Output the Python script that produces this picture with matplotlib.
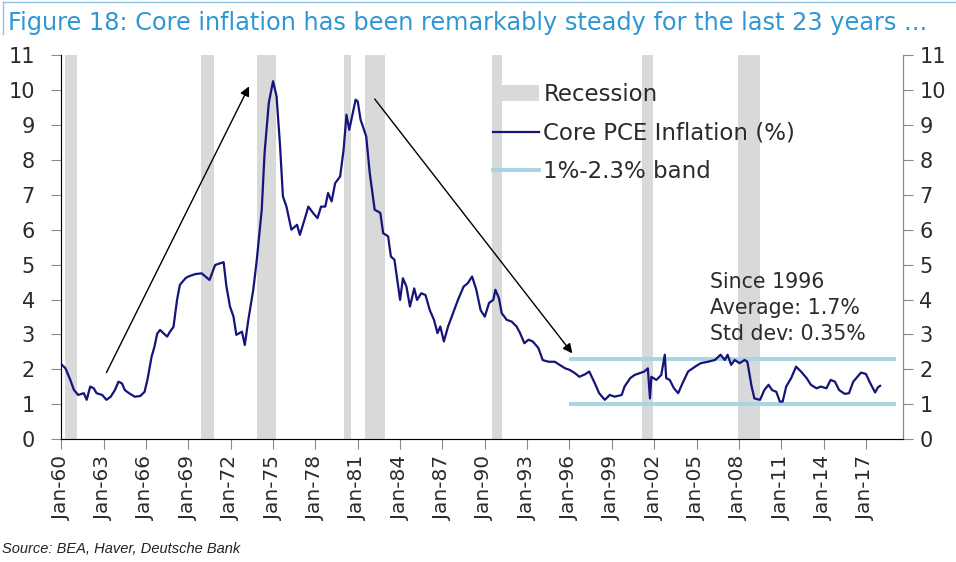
import matplotlib
matplotlib.use("Agg")
import matplotlib.pyplot as plt
from matplotlib.lines import Line2D
from matplotlib.patches import Patch

# core PCE inflation, % y/y (decimal years)
years = [1960.05, 1960.3, 1960.64, 1960.9, 1961.2, 1961.6, 1961.8, 1962.05, 1962.3, 1962.5,
         1962.9, 1963.2, 1963.5, 1963.8, 1964.05, 1964.3, 1964.5, 1964.8, 1965.2, 1965.6,
         1965.9, 1966.1, 1966.4, 1966.6, 1966.8, 1967.0, 1967.25, 1967.5, 1967.7, 1967.95,
         1968.2, 1968.4, 1968.8, 1969.0, 1969.5, 1969.95, 1970.5, 1970.9, 1971.5, 1971.7,
         1971.95, 1972.2, 1972.4, 1972.8, 1973.0, 1973.25, 1973.6, 1973.85, 1974.2, 1974.4,
         1974.7, 1975.0, 1975.25, 1975.5, 1975.7, 1975.95, 1976.3, 1976.7, 1976.9, 1977.3,
         1977.5, 1977.85, 1978.15, 1978.4, 1978.7, 1978.9, 1979.15, 1979.4, 1979.75, 1980.0,
         1980.2, 1980.4, 1980.6, 1980.85, 1981.0, 1981.2, 1981.6, 1981.85, 1982.2, 1982.6,
         1982.8, 1983.15, 1983.35, 1983.6, 1984.0, 1984.2, 1984.45, 1984.7, 1985.0, 1985.2,
         1985.5, 1985.8, 1986.1, 1986.4, 1986.65, 1986.85, 1987.1, 1987.4, 1987.75, 1988.1,
         1988.5, 1988.8, 1989.1, 1989.4, 1989.7, 1990.0, 1990.3, 1990.6, 1990.75, 1991.0,
         1991.2, 1991.55, 1991.9, 1992.25, 1992.5, 1992.8, 1993.1, 1993.4, 1993.8, 1994.1,
         1994.5, 1994.95, 1995.3, 1995.7, 1996.0, 1996.4, 1996.7, 1997.1, 1997.4, 1997.8,
         1998.1, 1998.5, 1998.85, 1999.2, 1999.7, 1999.9, 2000.3, 2000.6, 2000.95, 2001.3,
         2001.55, 2001.7, 2001.8, 2002.15, 2002.5, 2002.75, 2002.85, 2003.1, 2003.4, 2003.7,
         2004.0, 2004.4, 2004.9, 2005.3, 2005.8, 2006.3, 2006.7, 2007.0, 2007.2, 2007.45,
         2007.7, 2008.05, 2008.4, 2008.6, 2008.9, 2009.1, 2009.5, 2009.8, 2010.1, 2010.35,
         2010.65, 2010.9, 2011.1, 2011.35, 2011.7, 2012.05, 2012.4, 2012.8, 2013.1, 2013.5,
         2013.8, 2014.2, 2014.5, 2014.8, 2015.1, 2015.5, 2015.8, 2016.1, 2016.4, 2016.65,
         2017.0, 2017.25, 2017.5, 2017.65, 2017.85, 2018.0]
core_pce = [2.13, 2.03, 1.70, 1.41, 1.27, 1.32, 1.13, 1.51, 1.46, 1.32,
            1.27, 1.13, 1.22, 1.41, 1.65, 1.60, 1.41, 1.32, 1.22, 1.24,
            1.36, 1.70, 2.37, 2.65, 3.03, 3.13, 3.03, 2.94, 3.08, 3.22,
            3.99, 4.42, 4.61, 4.66, 4.73, 4.75, 4.56, 4.99, 5.07, 4.37,
            3.80, 3.51, 2.99, 3.08, 2.70, 3.42, 4.28, 5.14, 6.57, 8.19,
            9.63, 10.25, 9.82, 8.38, 6.95, 6.66, 6.00, 6.14, 5.85, 6.38,
            6.66, 6.47, 6.33, 6.66, 6.66, 7.05, 6.81, 7.33, 7.52, 8.29,
            9.29, 8.86, 9.24, 9.72, 9.67, 9.15, 8.67, 7.62, 6.57, 6.48,
            5.90, 5.81, 5.23, 5.14, 3.99, 4.61, 4.37, 3.80, 4.32, 3.99,
            4.18, 4.13, 3.70, 3.42, 3.04, 3.23, 2.80, 3.23, 3.61, 3.99,
            4.37, 4.47, 4.66, 4.28, 3.70, 3.51, 3.90, 3.99, 4.28, 4.04,
            3.61, 3.42, 3.37, 3.23, 3.04, 2.75, 2.85, 2.80, 2.61, 2.27,
            2.22, 2.22, 2.13, 2.03, 1.99, 1.89, 1.79, 1.86, 1.94, 1.60,
            1.32, 1.13, 1.27, 1.22, 1.27, 1.51, 1.75, 1.84, 1.89, 1.94,
            2.03, 1.17, 1.79, 1.70, 1.84, 2.42, 1.75, 1.70, 1.46, 1.32,
            1.60, 1.94, 2.08, 2.18, 2.22, 2.27, 2.42, 2.27, 2.42, 2.13,
            2.27, 2.18, 2.27, 2.22, 1.51, 1.17, 1.13, 1.41, 1.56, 1.41,
            1.36, 1.08, 1.08, 1.51, 1.75, 2.08, 1.94, 1.75, 1.56, 1.46,
            1.51, 1.46, 1.70, 1.65, 1.41, 1.30, 1.32, 1.65, 1.79, 1.91,
            1.87, 1.65, 1.46, 1.34, 1.49, 1.53]

rec_start = [1960.25, 1969.92, 1973.83, 1980.0, 1981.5, 1990.5, 2001.17, 2007.92]
rec_end = [1961.1, 1970.83, 1975.2, 1980.5, 1982.9, 1991.25, 2001.9, 2009.5]

band_from, band_to = 1996.0, 2019.1
band_low, band_high = 1.0, 2.3

tick_years = list(range(1960, 2018, 3))
tick_labels = ["Jan-%02d" % (y % 100) for y in tick_years]

navy = "#14147a"
band_col = "#a9d4e2"
rec_col = "#d9d9d9"
grey = "#8a8a8a"
txt = "#2b2b2b"

fig = plt.figure(figsize=(9.56, 5.62), dpi=100)
ax = fig.add_axes([0.0641, 0.2183, 0.8801, 0.6839])

for a, b in zip(rec_start, rec_end):
    ax.axvspan(a, b, color=rec_col, lw=0, zorder=1)
ax.hlines([band_low, band_high], band_from, band_to, color=band_col, lw=2.8, zorder=2)
ax.plot(years, core_pce, color=navy, lw=1.6, zorder=3)

ax.set_xlim(1960, 2019.6)
ax.set_ylim(0, 11)
ax.set_yticks(range(0, 12))
ax.set_xticks(tick_years)
ax.set_xticklabels(tick_labels, rotation=90)

for s in ["left", "right", "bottom"]:
    ax.spines[s].set_color(grey)
ax.spines["top"].set_visible(False)
ax.tick_params(axis="x", direction="out", length=7, color=grey, labelsize=14.5,
               labelcolor=txt, pad=5)
ax.tick_params(axis="y", direction="out", length=7, color=grey, labelsize=15,
               labelcolor=txt, pad=12)

ax2 = ax.twinx()
ax2.set_ylim(0, 11)
ax2.set_yticks(range(0, 12))
ax2.spines["top"].set_visible(False)
ax2.spines["right"].set_color(grey)
ax2.tick_params(axis="y", direction="out", length=7, color=grey, labelsize=15,
                labelcolor=txt, pad=5)

ax.annotate("", xy=(1973.3, 10.1), xytext=(1963.2, 1.91),
            arrowprops=dict(arrowstyle="-|>", color="black", lw=1.0,
                            mutation_scale=14, shrinkA=0, shrinkB=0), zorder=4)
ax.annotate("", xy=(1996.2, 2.46), xytext=(1982.2, 9.74),
            arrowprops=dict(arrowstyle="-|>", color="black", lw=1.0,
                            mutation_scale=14, shrinkA=0, shrinkB=0), zorder=4)

ax.text(2005.95, 4.8, "Since 1996\nAverage: 1.7%\nStd dev: 0.35%", fontsize=14.8,
        color=txt, va="top", ha="left", linespacing=1.4, zorder=5)

handles = [Patch(facecolor=rec_col, edgecolor="none"),
           Line2D([], [], color=navy, lw=1.6),
           Line2D([], [], color=band_col, lw=2.8)]
labels = ["Recession", "Core PCE Inflation (%)", "1%-2.3% band"]
leg = ax.legend(handles, labels, loc="upper left", bbox_to_anchor=(0.513, 0.927),
                frameon=False, fontsize=16.5, handlelength=2.0, handletextpad=0.2,
                labelspacing=0.68, borderpad=0, borderaxespad=0)
for t in leg.get_texts():
    t.set_color(txt)

fig.text(0.008, 1 - 23 / 562, "Figure 18: Core inflation has been remarkably steady for the last 23 years ...",
         fontsize=17.3, color="#2f97d3", va="center", ha="left")
fig.add_artist(Line2D([0.003, 1.0], [0.997, 0.997], transform=fig.transFigure,
                      color="#8cc3e3", lw=1))
fig.add_artist(Line2D([0.003, 0.003], [0.997, 0.94], transform=fig.transFigure,
                      color="#8cc3e3", lw=1))
fig.text(0.002, 1 - 549 / 562, "Source: BEA, Haver, Deutsche Bank", fontsize=10.5,
         style="italic", family="Liberation Sans", color="#222222", va="center", ha="left")

fig.savefig("out.png", dpi=100)
